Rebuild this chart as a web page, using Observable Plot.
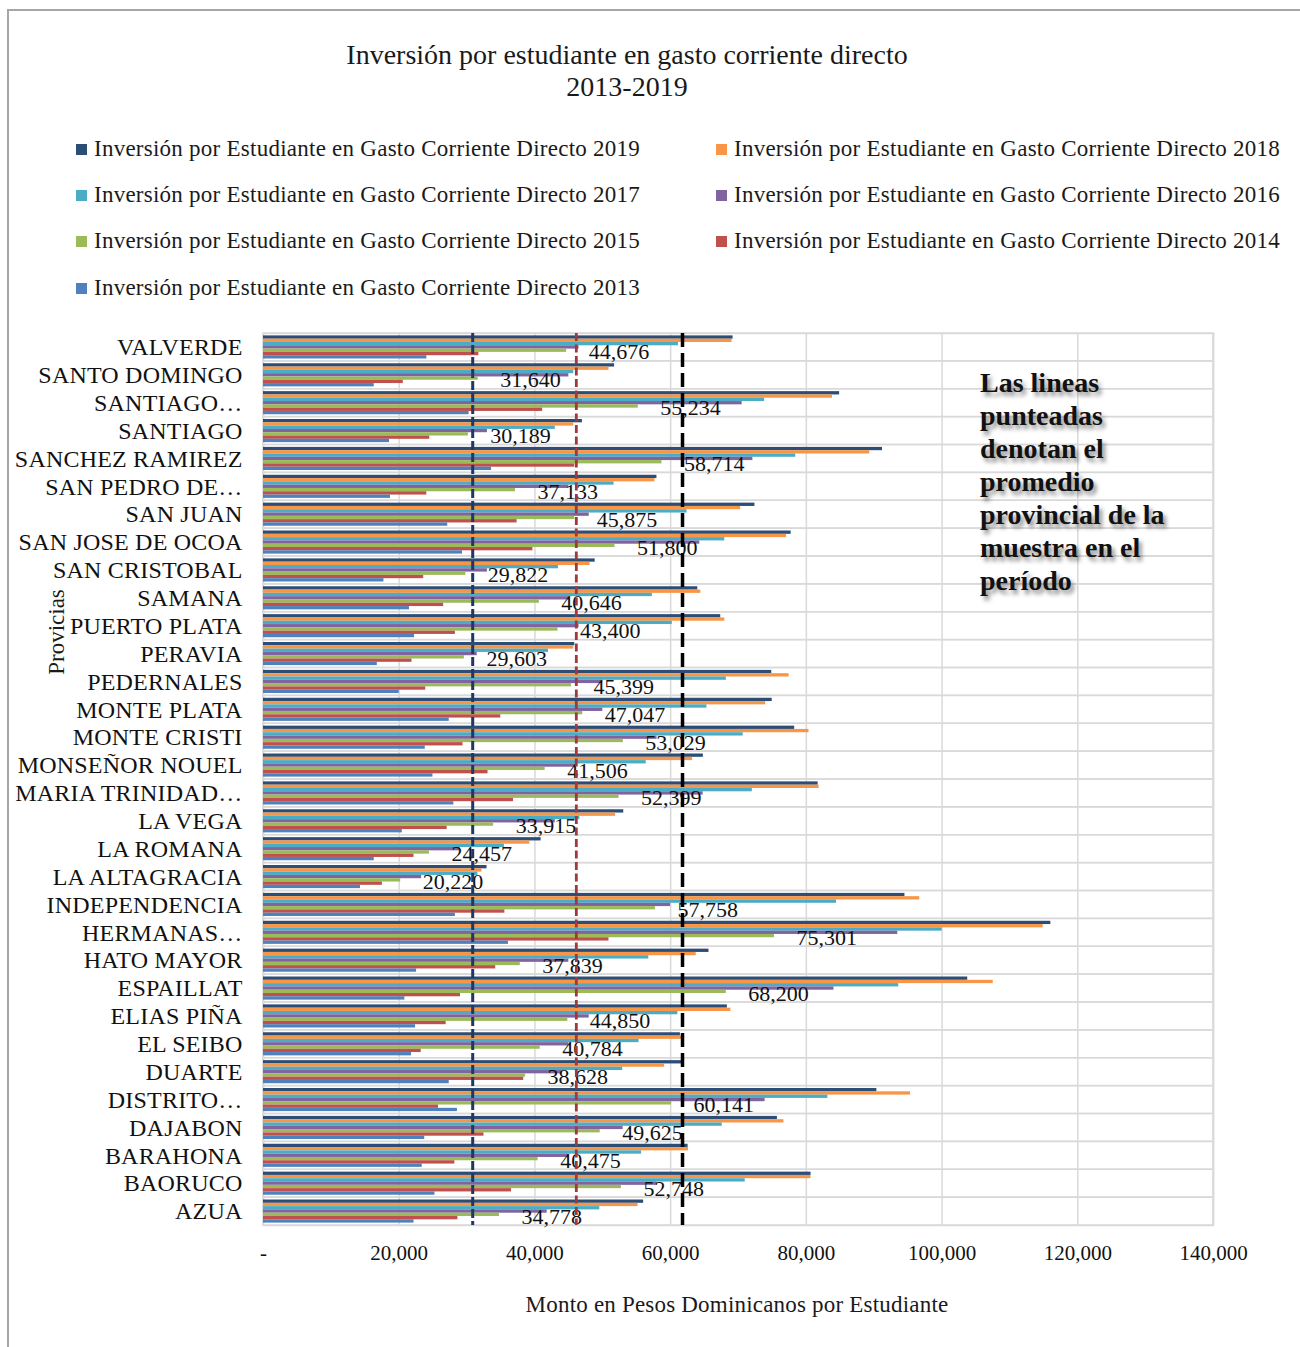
<!DOCTYPE html>
<html><head><meta charset="utf-8">
<script src="https://cdn.jsdelivr.net/npm/d3@7"></script>
<script src="https://cdn.jsdelivr.net/npm/@observablehq/plot@0.6"></script>
<style>
body{margin:0;background:#fff;font-family:"Liberation Serif",serif;color:#1a1a1a}
#page{position:relative;width:1300px;height:1347px;overflow:hidden;background:#fff}
#border{position:absolute;left:7px;top:9px;width:1400px;height:1400px;border-left:2px solid #a6a6a6;border-top:2px solid #a6a6a6}
.t{position:absolute;left:0;width:1254px;text-align:center;font-size:28px;line-height:32px;white-space:nowrap}
.leg{position:absolute;display:flex;align-items:center;font-size:23px;line-height:28px;white-space:nowrap;letter-spacing:.25px}
.sw{width:11px;height:11px;margin-right:7px;flex:none}
#note{position:absolute;left:980px;top:366px;font-weight:bold;font-size:28px;line-height:33px;color:#111;text-shadow:3px 4px 4px rgba(0,0,0,.45);white-space:nowrap}
#ylab{position:absolute;left:57px;top:632px;transform:translate(-50%,-50%) rotate(-90deg);font-size:23px;white-space:nowrap}
#xlab{position:absolute;left:0;width:1474px;top:1292px;text-align:center;font-size:23px;letter-spacing:.2px;white-space:nowrap}
#chart{position:absolute;left:0;top:310px}
#chart [aria-label="y-axis tick label"] text{letter-spacing:.2px}
</style></head>
<body><div id="page">
<div id="border"></div>
<div class="t" style="top:39px">Inversión por estudiante en gasto corriente directo</div>
<div class="t" style="top:71px">2013-2019</div>
<div id="legend"></div>
<div id="chart"></div>
<div id="note">Las lineas<br>punteadas<br>denotan el<br>promedio<br>provincial de la<br>muestra en el<br>período</div>
<div id="ylab">Provicias</div>
<div id="xlab">Monto en Pesos Dominicanos por Estudiante</div>
</div>
<script>
const provincias = ["VALVERDE","SANTO DOMINGO","SANTIAGO…","SANTIAGO","SANCHEZ RAMIREZ","SAN PEDRO DE…","SAN JUAN","SAN JOSE DE OCOA","SAN CRISTOBAL","SAMANA","PUERTO PLATA","PERAVIA","PEDERNALES","MONTE PLATA","MONTE CRISTI","MONSEÑOR NOUEL","MARIA TRINIDAD…","LA VEGA","LA ROMANA","LA ALTAGRACIA","INDEPENDENCIA","HERMANAS…","HATO MAYOR","ESPAILLAT","ELIAS PIÑA","EL SEIBO","DUARTE","DISTRITO…","DAJABON","BARAHONA","BAORUCO","AZUA"];
const anios = ["2019","2018","2017","2016","2015","2014","2013"];
const v2019 = [69200,51740,84900,47000,91220,57980,72420,77760,48880,64000,67380,45870,74900,74970,78280,64820,81740,53090,40910,32940,94530,116030,65650,103780,68360,61440,61740,90390,75730,62570,80690,56020];
const v2018 = [69050,50910,83850,45720,89340,57680,70310,77080,48130,64450,67980,45720,77460,74000,80390,63240,81890,51890,39250,32190,96710,114900,63770,107540,68880,61890,59110,95350,76700,62640,80690,55200];
const v2017 = [61150,45720,73850,43000,78440,51660,62420,67980,43470,57300,60240,42000,68210,65350,70690,56400,72040,46620,35500,31600,84450,100020,56780,93620,61060,55350,52940,83170,67600,55720,70990,49560];
const v2016 = [46500,45000,70540,33000,72120,45000,48000,64300,33000,45000,46500,31500,50000,50000,58000,46000,64800,43000,29000,23300,60000,93470,45000,84070,48000,45000,44000,73920,53000,45000,58000,41810];
const v2015 = [44676,31640,55234,30189,58714,37133,45875,51800,29822,40646,43400,29603,45399,47047,53029,41506,52399,33915,24457,20220,57758,75301,37839,68200,44850,40784,38628,60141,49625,40475,52748,34778];
const v2014 = [31740,20600,41130,24500,45870,24060,37370,39700,23610,26550,28280,21880,23910,34970,29400,33090,36850,27070,22180,17520,35570,50910,34220,29030,26920,23240,38350,25790,32490,28200,36550,28650];
const v2013 = [24070,16320,30300,18570,33610,18720,27150,29330,17750,21510,22260,16770,20000,27370,23840,24970,28050,20450,16320,14290,28280,36100,22560,20830,22410,21810,27370,28580,23760,23390,25270,22180];
const promedios = [30830, 46100, 61750];
const xTicks = [0,20000,40000,60000,80000,100000,120000,140000];

const series = [v2019,v2018,v2017,v2016,v2015,v2014,v2013];
const colores = ["#2C4D75","#F79646","#4BACC6","#8064A2","#9BBB59","#C0504D","#4F81BD"];
const estilosProm = [
  {stroke:"#1F3864", strokeWidth:3, strokeDasharray:"9,3"},
  {stroke:"#A0393B", strokeWidth:2.8, strokeDasharray:"8,3.5"},
  {stroke:"#000000", strokeWidth:3.5, strokeDasharray:"14,6"}
];

// legend
const legPos = [[76,149],[716,149],[76,195],[716,195],[76,241],[716,241],[76,288]];
const leg = document.getElementById("legend");
anios.forEach((a,i)=>{
  const d = document.createElement("div");
  d.className="leg";
  d.style.left = legPos[i][0]+"px";
  d.style.top = (legPos[i][1]-14)+"px";
  d.innerHTML = `<span class="sw" style="background:${colores[i]}"></span>Inversión por Estudiante en Gasto Corriente Directo ${a}`;
  leg.appendChild(d);
});

const rows = [];
series.forEach((vals,i)=>vals.forEach((v,j)=>rows.push({provincia:provincias[j], anio:anios[i], valor:v})));

const W=1300, H=1037, mT=23, mB=122, mL=263, mR=87;
const bw = (H-mT-mB)/provincias.length;
const barH = 3.3;
const off = (bw - anios.length*barH)/2;

const fmt = d3.format(",");
const marks = [
  Plot.gridX({ticks:xTicks, stroke:"#d9d9d9", strokeOpacity:1, strokeWidth:1.5}),
  Plot.cell(provincias, {y:d=>d, fill:"none", stroke:"#d9d9d9", strokeWidth:1.5}),
  Plot.frame({stroke:"#d9d9d9", strokeWidth:1.5}),
];
anios.forEach((a,i)=>{
  marks.push(Plot.barX(rows.filter(r=>r.anio===a), {
    x:"valor", y:"provincia", fill:colores[i],
    insetTop: off + i*barH, insetBottom: bw - off - (i+1)*barH
  }));
});
marks.push(Plot.text(rows.filter(r=>r.anio==="2015"), {
  x:"valor", y:"provincia", text:d=>fmt(d.valor), textAnchor:"start",
  dx:22, dy:5, fontSize:22, fill:"#111"
}));
promedios.forEach((p,i)=>{
  marks.push(Plot.ruleX([p], {x:d=>d, ...estilosProm[i]}));
});
marks.push(Plot.axisY({tickSize:0, tickPadding:21, fontSize:24, fill:"#111", label:null}));
marks.push(Plot.axisX({ticks:xTicks, tickSize:0, tickPadding:20, fontSize:21, label:null, fill:"#111",
  tickFormat:d=>d===0?"-":fmt(d)}));

const chart = Plot.plot({
  width:W, height:H, marginTop:mT, marginBottom:mB, marginLeft:mL, marginRight:mR,
  style:{fontFamily:"Liberation Serif, serif", background:"transparent", overflow:"visible"},
  x:{domain:[0,140000], label:null},
  y:{domain:provincias, padding:0, round:false, label:null},
  marks
});
document.getElementById("chart").appendChild(chart);
</script>
</body></html>
